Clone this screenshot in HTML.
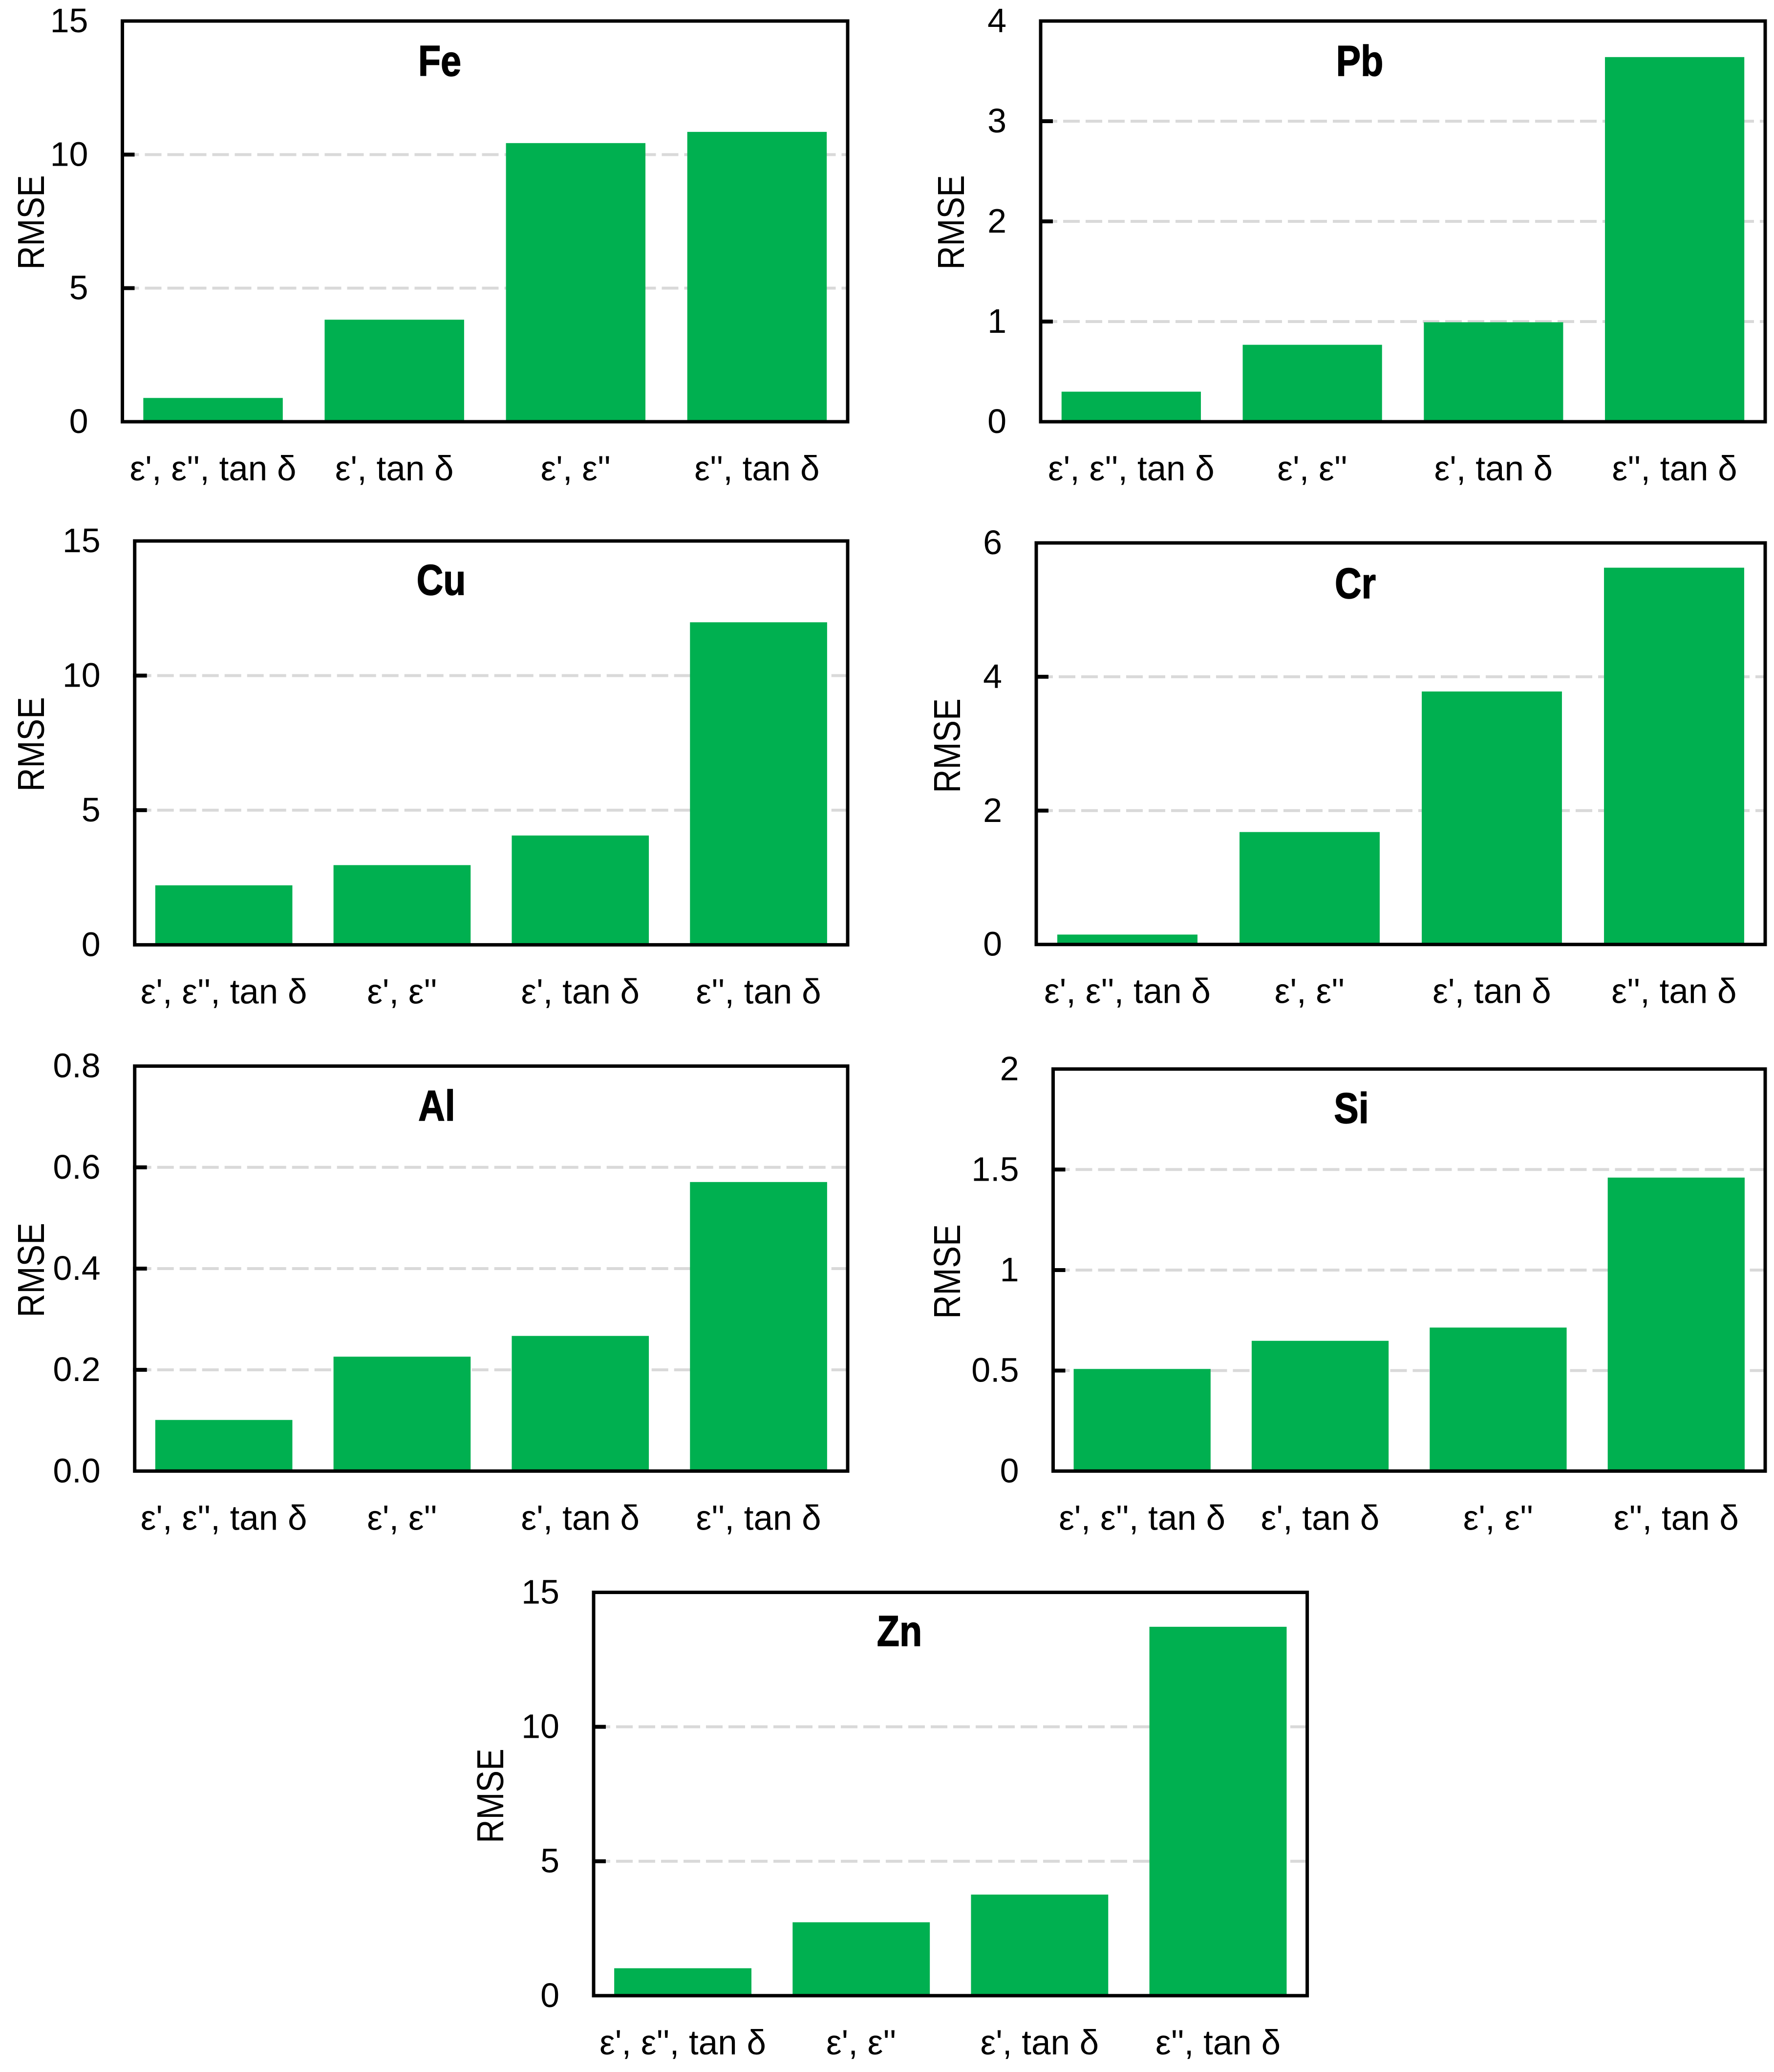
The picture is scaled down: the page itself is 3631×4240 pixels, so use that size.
<!DOCTYPE html>
<html lang="en">
<head>
<meta charset="utf-8">
<title>RMSE by dielectric feature combination</title>
<style>
  html, body { margin: 0; padding: 0; background: #ffffff; }
  svg { display: block; }
  text { font-family: "Liberation Sans", "DejaVu Sans", sans-serif; fill: #000000; }
</style>
</head>
<body>
<svg id="chart-root" xmlns="http://www.w3.org/2000/svg" width="3631" height="4240" viewBox="0 0 3631 4240"></svg>
<script>
// ---- Data: Fe ----
const feCategories = ["ε', ε'', tan δ", "ε', tan δ", "ε', ε''", "ε'', tan δ"];
const feValues = [0.89, 3.82, 10.43, 10.85];
const feTicks = ["0", "5", "10", "15"];
// ---- Data: Pb ----
const pbCategories = ["ε', ε'', tan δ", "ε', ε''", "ε', tan δ", "ε'', tan δ"];
const pbValues = [0.30, 0.768, 0.993, 3.64];
const pbTicks = ["0", "1", "2", "3", "4"];
// ---- Data: Cu ----
const cuCategories = ["ε', ε'', tan δ", "ε', ε''", "ε', tan δ", "ε'', tan δ"];
const cuValues = [2.21, 2.96, 4.06, 11.98];
const cuTicks = ["0", "5", "10", "15"];
// ---- Data: Cr ----
const crCategories = ["ε', ε'', tan δ", "ε', ε''", "ε', tan δ", "ε'', tan δ"];
const crValues = [0.148, 1.68, 3.78, 5.63];
const crTicks = ["0", "2", "4", "6"];
// ---- Data: Al ----
const alCategories = ["ε', ε'', tan δ", "ε', ε''", "ε', tan δ", "ε'', tan δ"];
const alValues = [0.101, 0.226, 0.267, 0.571];
const alTicks = ["0.0", "0.2", "0.4", "0.6", "0.8"];
// ---- Data: Si ----
const siCategories = ["ε', ε'', tan δ", "ε', tan δ", "ε', ε''", "ε'', tan δ"];
const siValues = [0.508, 0.648, 0.714, 1.46];
const siTicks = ["0", "0.5", "1", "1.5", "2"];
// ---- Data: Zn ----
const znCategories = ["ε', ε'', tan δ", "ε', ε''", "ε', tan δ", "ε'', tan δ"];
const znValues = [1.02, 2.73, 3.76, 13.72];
const znTicks = ["0", "5", "10", "15"];

const yAxisLabel = "RMSE";

// ---- Layout (separate from data) ----
const panels = [
  { name: "Fe", cats: feCategories, vals: feValues, ticks: feTicks, l: 250.5, r: 1735, t: 43, b: 863, titleX: 900, titleY: 155, yLabX: 90, yLabY: 455 },
  { name: "Pb", cats: pbCategories, vals: pbValues, ticks: pbTicks, l: 2130, r: 3613, t: 43, b: 863, titleX: 2783, titleY: 155, yLabX: 1973, yLabY: 455 },
  { name: "Cu", cats: cuCategories, vals: cuValues, ticks: cuTicks, l: 275.7, r: 1735, t: 1107, b: 1933.4, titleX: 903, titleY: 1217, yLabX: 90, yLabY: 1523 },
  { name: "Cr", cats: crCategories, vals: crValues, ticks: crTicks, l: 2121, r: 3613, t: 1111, b: 1932.7, titleX: 2774, titleY: 1224, yLabX: 1965, yLabY: 1526 },
  { name: "Al", cats: alCategories, vals: alValues, ticks: alTicks, l: 275.7, r: 1735, t: 2181.6, b: 3010.3, titleX: 894, titleY: 2293, yLabX: 90, yLabY: 2599 },
  { name: "Si", cats: siCategories, vals: siValues, ticks: siTicks, l: 2155.5, r: 3613, t: 2187.6, b: 3010.3, titleX: 2766, titleY: 2298, yLabX: 1965, yLabY: 2602 },
  { name: "Zn", cats: znCategories, vals: znValues, ticks: znTicks, l: 1215, r: 2675.6, t: 3258.5, b: 4083.8, titleX: 1841, titleY: 3368, yLabX: 1030, yLabY: 3675 }
];

const SVG_NS = "http://www.w3.org/2000/svg";
const root = document.getElementById("chart-root");

function make(tag, parent) {
  const el = document.createElementNS(SVG_NS, tag);
  parent.appendChild(el);
  return el;
}
function setAll(el, attrs) {
  for (const k in attrs) el.setAttribute(k, attrs[k]);
}

panels.forEach(function (p) {
  const key = p.name.toLowerCase();
  const g = make("g", root);
  
  

  const yMax = parseFloat(p.ticks[p.ticks.length - 1]);
  const yScale = function (v) { return p.b - (v / yMax) * (p.b - p.t); };
  const band = (p.r - p.l) / p.cats.length;
  const barW = band / 1.3;
  const xCenter = function (i) { return p.l + band * (i + 0.5); };

  // gridlines
  p.ticks.forEach(function (lab) {
    const v = parseFloat(lab);
    if (v === 0 || v === yMax) return;
    const line = make("line", g);
    setAll(line, { x1: p.l, x2: p.r, y1: yScale(v), y2: yScale(v), stroke: "#d9d9d9", "stroke-width": 6, "stroke-dasharray": "34 12" });
    
    
  });

  // bars
  p.vals.forEach(function (v, i) {
    const rect = make("rect", g);
    setAll(rect, { x: xCenter(i) - barW / 2, y: yScale(v), width: barW, height: p.b - yScale(v), fill: "#00b050" });
    
    
  });

  // tick marks and tick labels
  p.ticks.forEach(function (lab) {
    const v = parseFloat(lab);
    const y = yScale(v);
    if (v !== 0 && v !== yMax) {
      const tick = make("line", g);
      setAll(tick, { x1: p.l - 3.5, x2: p.l + 25, y1: y, y2: y, stroke: "#000000", "stroke-width": 8 });
      
      
    }
    const t = make("text", g);
    setAll(t, { x: p.l - 70, y: y + 23, "text-anchor": "end", "font-size": 70 });
    t.textContent = lab;
    
    
  });

  // category labels
  p.cats.forEach(function (c, i) {
    const t = make("text", g);
    setAll(t, { transform: "translate(" + xCenter(i) + "," + (p.b + 120) + ") scale(1,1)", "text-anchor": "middle", "font-size": 71 });
    t.textContent = c;
    
    
  });

  // frame
  const frame = make("rect", g);
  setAll(frame, { x: p.l, y: p.t, width: p.r - p.l, height: p.b - p.t, fill: "none", stroke: "#000000", "stroke-width": 7 });
  
  

  // title
  const title = make("text", g);
  setAll(title, { transform: "translate(" + p.titleX + "," + p.titleY + ") scale(0.86,1)", "text-anchor": "middle", "font-size": 88, "font-weight": "bold", stroke: "#000000", "stroke-width": 1.5 });
  title.textContent = p.name;
  
  

  // y axis label
  const yl = make("text", g);
  setAll(yl, { transform: "translate(" + p.yLabX + "," + p.yLabY + ") rotate(-90) scale(0.87,1)", "text-anchor": "middle", "font-size": 77 });
  yl.textContent = yAxisLabel;
  
  
});
</script>
</body>
</html>
